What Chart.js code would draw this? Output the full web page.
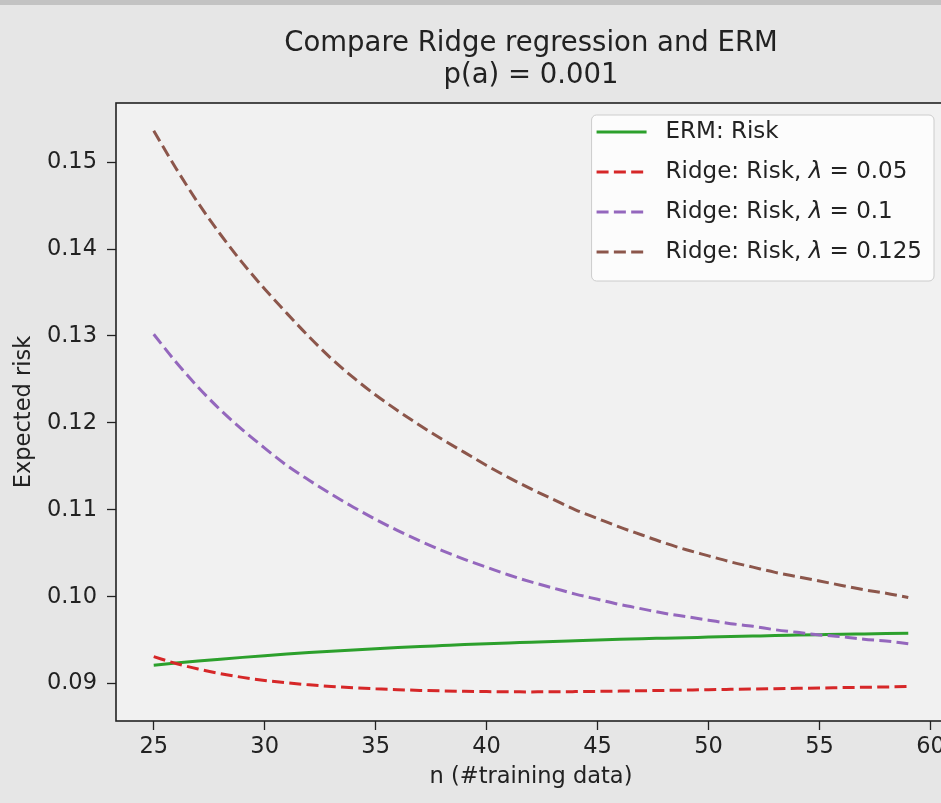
<!DOCTYPE html>
<html>
<head>
<meta charset="utf-8">
<script src="https://cdn.jsdelivr.net/npm/chart.js@4"></script>
<style>
  html, body { margin: 0; padding: 0; overflow: hidden; background: #e6e6e6; }
  #wrap { width: 950px; height: 803px; }
</style>
</head>
<body>
<div id="wrap"><canvas id="risk-chart" width="950" height="803"></canvas></div>
<script>
// n values (training set size)
const nValues = [25, 26, 27, 28, 29, 30, 31, 32, 33, 34, 35, 36, 37, 38, 39, 40, 41, 42,
  43, 44, 45, 46, 47, 48, 49, 50, 51, 52, 53, 54, 55, 56, 57, 58, 59];

// ERM risk
const ermRisk = [0.09212, 0.09236, 0.09259, 0.09281, 0.09302, 0.09322, 0.09340, 0.09357,
  0.09373, 0.09388, 0.09402, 0.09415, 0.09427, 0.09438, 0.09449, 0.09459, 0.09468, 0.09477,
  0.09486, 0.09494, 0.09502, 0.09510, 0.09517, 0.09523, 0.09529, 0.09535, 0.09541, 0.09547,
  0.09553, 0.09558, 0.09563, 0.09568, 0.09572, 0.09576, 0.09580];

// ridge risk, lambda = 0.05
const ridgeRisk005 = [0.09310, 0.09232, 0.09168, 0.09115, 0.09072, 0.09037, 0.09009, 0.08986,
  0.08967, 0.08952, 0.08940, 0.08930, 0.08922, 0.08916, 0.08911, 0.08908, 0.08906, 0.08905,
  0.08906, 0.08908, 0.08911, 0.08914, 0.08918, 0.08922, 0.08926, 0.08930, 0.08934, 0.08938,
  0.08942, 0.08946, 0.08950, 0.08954, 0.08958, 0.08962, 0.08966];

// ridge risk, lambda = 0.1
const ridgeRisk01 = [0.1302, 0.1270, 0.1241, 0.1215, 0.1192, 0.1171, 0.1151, 0.1134, 0.1118,
  0.1103, 0.1089, 0.1076, 0.1064, 0.1053, 0.1043, 0.1034, 0.1025, 0.1017, 0.1010, 0.1003,
  0.0997, 0.0991, 0.0986, 0.0981, 0.0977, 0.0973, 0.0969, 0.0966, 0.0962, 0.0959, 0.0956,
  0.0954, 0.0951, 0.0949, 0.0946];

// ridge risk, lambda = 0.125
const ridgeRisk0125 = [0.1536, 0.1493, 0.1453, 0.1417, 0.1384, 0.1354, 0.1326, 0.1299, 0.1274,
  0.1252, 0.1232, 0.1214, 0.1197, 0.1181, 0.1166, 0.1151, 0.1137, 0.1124, 0.1112, 0.1100,
  0.1090, 0.1080, 0.1071, 0.1062, 0.1054, 0.1047, 0.1040, 0.1034, 0.1028, 0.1023, 0.1018,
  0.1013, 0.1008, 0.1004, 0.0999];

const seriesLabels = ["ERM: Risk", "Ridge: Risk, λ = 0.05", "Ridge: Risk, λ = 0.1", "Ridge: Risk, λ = 0.125"];
const xTickValues = [25, 30, 35, 40, 45, 50, 55, 60];
const yTickValues = [0.09, 0.10, 0.11, 0.12, 0.13, 0.14, 0.15];
const titleLines = ["Compare Ridge regression and ERM", "p(a) = 0.001"];
const xAxisTitle = "n (#training data)";
const yAxisTitle = "Expected risk";

const FONT = "'DejaVu Sans', sans-serif";
const TEXT = "#222222";
const DASH = [12, 5.3];

function toPoints(values) {
  return nValues.map((n, i) => ({ x: n, y: values[i] }));
}

// background, frame, titles and legend drawn like the matplotlib figure
const figurePlugin = {
  id: "figure",
  beforeDraw(chart) {
    const { ctx, width, height, chartArea: a } = chart;
    ctx.save();
    ctx.fillStyle = "#e6e6e6";
    ctx.fillRect(0, 0, width, height);
    ctx.fillStyle = "#c3c3c3";
    ctx.fillRect(0, 0, width, 5);
    ctx.fillStyle = "#f1f1f1";
    ctx.fillRect(a.left, a.top, a.right - a.left, a.bottom - a.top);
    ctx.restore();
  },
  afterDraw(chart) {
    const { ctx, chartArea: a } = chart;
    const cx = (a.left + a.right) / 2;
    ctx.save();

    // frame
    ctx.strokeStyle = TEXT;
    ctx.lineWidth = 1.6;
    ctx.strokeRect(a.left, a.top, a.right - a.left, a.bottom - a.top);

    // title
    ctx.fillStyle = TEXT;
    ctx.textAlign = "center";
    ctx.textBaseline = "middle";
    ctx.font = "27.5px " + FONT;
    ctx.fillText(titleLines[0], cx, 44);
    ctx.fillText(titleLines[1], cx, 76);

    // axis titles
    ctx.font = "22.5px " + FONT;
    ctx.fillText(xAxisTitle, cx, 777);
    ctx.save();
    ctx.translate(24, (a.top + a.bottom) / 2);
    ctx.rotate(-Math.PI / 2);
    ctx.fillText(yAxisTitle, 0, 0);
    ctx.restore();

    // legend
    const sets = chart.data.datasets;
    ctx.font = "23px " + FONT;
    let maxW = 0;
    sets.forEach((ds) => { maxW = Math.max(maxW, ctx.measureText(ds.label).width); });
    const boxW = 74 + maxW + 12;
    const boxH = 166;
    const bx = a.right - 12 - boxW;
    const by = 115;
    ctx.beginPath();
    ctx.roundRect(bx, by, boxW, boxH, 5);
    ctx.fillStyle = "rgba(255,255,255,0.8)";
    ctx.fill();
    ctx.strokeStyle = "#cccccc";
    ctx.lineWidth = 1;
    ctx.stroke();

    sets.forEach((ds, i) => {
      const y = by + 17 + 40 * i;
      ctx.beginPath();
      ctx.setLineDash(ds.borderDash || []);
      ctx.strokeStyle = ds.borderColor;
      ctx.lineWidth = ds.borderWidth;
      ctx.moveTo(bx + 5, y);
      ctx.lineTo(bx + 55, y);
      ctx.stroke();
      ctx.setLineDash([]);

      ctx.fillStyle = TEXT;
      ctx.textAlign = "left";
      let x = bx + 74;
      const parts = ds.label.split("λ");
      parts.forEach((p, k) => {
        ctx.font = "23px " + FONT;
        ctx.fillText(p, x, y);
        x += ctx.measureText(p).width;
        if (k < parts.length - 1) {
          ctx.font = "italic 23px " + FONT;
          ctx.fillText("λ", x, y);
          x += ctx.measureText("λ").width;
        }
      });
    });
    ctx.restore();
  }
};

const config = {
  type: "line",
  data: {
    datasets: [
      { label: seriesLabels[0], data: toPoints(ermRisk), borderColor: "#2ca02c", borderWidth: 3, order: 4 },
      { label: seriesLabels[1], data: toPoints(ridgeRisk005), borderColor: "#d62728", borderWidth: 3, borderDash: DASH, order: 3 },
      { label: seriesLabels[2], data: toPoints(ridgeRisk01), borderColor: "#9467bd", borderWidth: 3, borderDash: DASH, order: 2 },
      { label: seriesLabels[3], data: toPoints(ridgeRisk0125), borderColor: "#8c564b", borderWidth: 3, borderDash: DASH, order: 1 },
    ],
  },
  options: {
    responsive: false,
    animation: false,
    devicePixelRatio: 1,
    layout: { padding: { top: 103, right: 4, left: 0, bottom: 0 } },
    elements: { point: { radius: 0 }, line: { cubicInterpolationMode: "monotone", fill: false } },
    plugins: { legend: { display: false }, title: { display: false }, tooltip: { enabled: false } },
    scales: {
      x: {
        type: "linear",
        min: 23.3,
        max: 60.7,
        afterBuildTicks: (axis) => { axis.ticks = xTickValues.map((v) => ({ value: v })); },
        afterFit: (scale) => { scale.height = 82; },
        border: { display: false },
        grid: { drawOnChartArea: false, tickLength: 9, tickColor: TEXT, tickWidth: 1.3 },
        ticks: { color: TEXT, font: { size: 22.5, family: FONT }, padding: 4, autoSkip: false, maxRotation: 0,
          callback: (v) => String(v) },
      },
      y: {
        type: "linear",
        min: 0.0857,
        max: 0.1568,
        afterBuildTicks: (axis) => { axis.ticks = yTickValues.map((v) => ({ value: v })); },
        afterFit: (scale) => { scale.width = 116; },
        border: { display: false },
        grid: { drawOnChartArea: false, tickLength: 9, tickColor: TEXT, tickWidth: 1.3 },
        ticks: { color: TEXT, font: { size: 22.5, family: FONT }, padding: 10, autoSkip: false,
          callback: (v) => v.toFixed(2) },
      },
    },
  },
  plugins: [figurePlugin],
};

new Chart(document.getElementById("risk-chart").getContext("2d"), config);
</script>
</body>
</html>
